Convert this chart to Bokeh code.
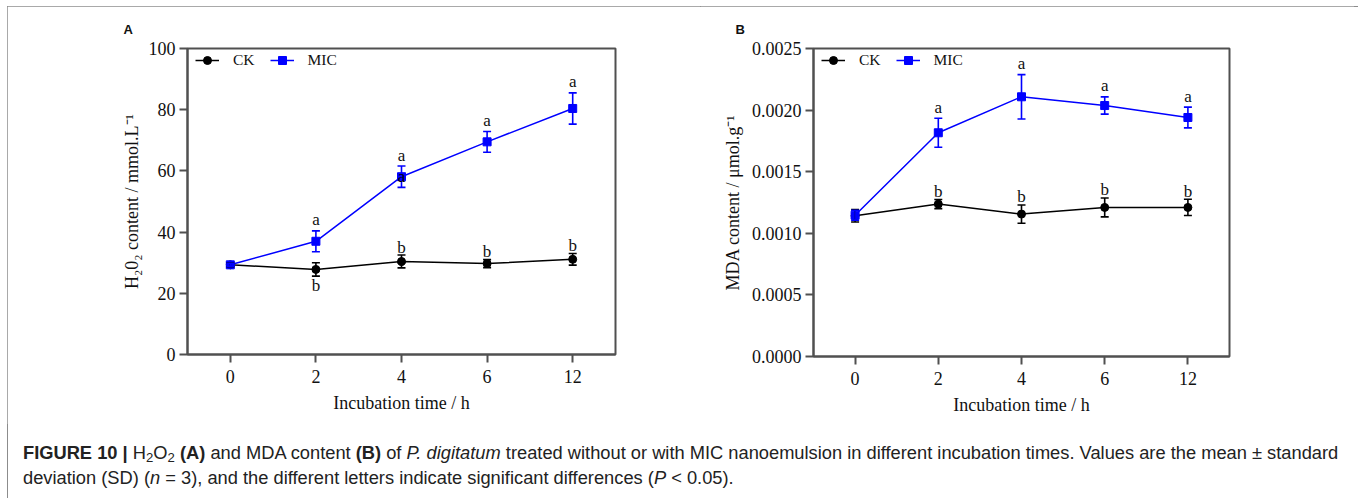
from bokeh.plotting import figure
from bokeh.models import (ColumnDataSource, Whisker, TeeHead, FactorRange, Range1d,
                          Legend, LegendItem, Div, PrintfTickFormatter, Title)
from bokeh.layouts import row, column
from bokeh.embed import file_html
from bokeh.resources import INLINE
from bokeh.core.properties import value

# ---------------- data ----------------
times = ["0", "2", "4", "6", "12"]

# Panel A: H2O2 content (mmol/L)
h2o2_ck = [29.3, 27.8, 30.4, 29.7, 31.1]
h2o2_ck_sd = [0.6, 2.2, 2.1, 1.3, 1.9]
h2o2_mic = [29.3, 37.0, 58.1, 69.5, 80.4]
h2o2_mic_sd = [0.5, 3.4, 3.5, 3.4, 5.1]
h2o2_ck_letters = ["", "b", "b", "b", "b"]
h2o2_ck_letter_side = ["", "below", "above", "above", "above"]
h2o2_mic_letters = ["", "a", "a", "a", "a"]
h2o2_mic_stray = ["", "", "a", "", ""]   # stray letter printed on the 4 h marker

# Panel B: MDA content (umol/g)
mda_ck = [0.001142, 0.001237, 0.001156, 0.001210, 0.001210]
mda_ck_sd = [0.000050, 0.000037, 0.000074, 0.000077, 0.000066]
mda_mic = [0.001147, 0.001816, 0.002108, 0.002037, 0.001940]
mda_mic_sd = [0.000040, 0.000118, 0.000180, 0.000070, 0.000084]
mda_ck_letters = ["", "b", "b", "b", "b"]
mda_ck_letter_side = ["", "above", "above", "above", "above"]
mda_mic_letters = ["", "a", "a", "a", "a"]
mda_mic_stray = ["", "", "", "", ""]

h2o2_yticks = [0, 20, 40, 60, 80, 100]
mda_yticks = [0.0, 0.0005, 0.0010, 0.0015, 0.0020, 0.0025]

SERIF = "Liberation Serif"
SANS = "Liberation Sans"
BLUE = "#0000ff"
BLACK = "#000000"
AXIS = "#505050"
LETTER_OFFSET = {"a": -11, "b": -8}


def make_panel(ck, ck_sd, ck_let, ck_side, mic, mic_sd, mic_let, stray,
               yticks, ylabel, fmt, frame_w, frame_h, mb_left, mb_right, mb_bottom,
               letter, letter_offset, ylab_standoff):
    p = figure(x_range=FactorRange(factors=times),
               y_range=Range1d(yticks[0], yticks[-1]),
               frame_width=frame_w, frame_height=frame_h,
               min_border_left=mb_left, min_border_right=mb_right,
               min_border_top=42, min_border_bottom=mb_bottom,
               output_backend="svg", toolbar_location=None)
    p.background_fill_color = "white"
    p.border_fill_color = "white"
    p.xgrid.visible = False
    p.ygrid.visible = False
    p.outline_line_color = AXIS
    p.outline_line_width = 2
    p.outline_line_alpha = 1

    for ax in (p.xaxis[0], p.yaxis[0]):
        ax.axis_line_color = AXIS
        ax.axis_line_width = 2
        ax.major_tick_line_color = AXIS
        ax.major_tick_line_width = 2
        ax.major_tick_in = 0
        ax.major_tick_out = 8
        ax.minor_tick_line_color = None
        ax.major_label_text_font = SERIF
        ax.major_label_text_font_size = "18px"
        ax.major_label_text_color = "#111111"
        ax.axis_label_text_font = SERIF
        ax.axis_label_text_font_size = "18px"
        ax.axis_label_text_font_style = "normal"
        ax.axis_label_text_color = "#111111"
    p.xaxis.axis_label = "Incubation time / h"
    p.xaxis.major_label_standoff = 7
    p.xaxis.axis_label_standoff = 7
    p.yaxis.axis_label = ylabel
    p.yaxis.ticker = yticks
    p.yaxis.major_label_standoff = 4
    p.yaxis.axis_label_standoff = ylab_standoff
    if fmt is not None:
        p.yaxis.formatter = fmt

    def series(vals, sd, color, marker, letters, sides, stray_letters):
        src = ColumnDataSource(dict(
            x=times, y=vals,
            upper=[v + s for v, s in zip(vals, sd)],
            lower=[v - s for v, s in zip(vals, sd)]))
        w = Whisker(base="x", upper="upper", lower="lower", source=src,
                    line_color=color, line_width=1.6,
                    upper_head=TeeHead(size=8, line_color=color, line_width=1.6),
                    lower_head=TeeHead(size=8, line_color=color, line_width=1.6))
        w.level = "glyph"
        p.add_layout(w)
        ln = p.line("x", "y", source=src, line_color=color, line_width=1.5)
        mk = p.scatter("x", "y", source=src, marker=marker, size=8,
                       fill_color=color, line_color=color)
        # significance letters
        ax_, ay_, at_ = [], [], []
        bx_, by_, bt_ = [], [], []
        for t, v, s, l, sd_ in zip(times, vals, sd, letters, sides):
            if not l:
                continue
            if sd_ == "below":
                bx_.append(t); by_.append(v - s); bt_.append(l)
            else:
                ax_.append(t); ay_.append(v + s); at_.append(l)
        if ax_:
            p.text(x=ax_, y=ay_, text=at_, text_align="center",
                   text_baseline="alphabetic",
                   y_offset=LETTER_OFFSET[at_[0]],
                   text_font=value(SERIF), text_font_size="17px", text_color="#111111")
        if bx_:
            p.text(x=bx_, y=by_, text=bt_, text_align="center", text_baseline="top",
                   y_offset=0, text_font=value(SERIF), text_font_size="17px",
                   text_color="#111111")
        sx = [t for t, l in zip(times, stray_letters) if l]
        sy = [v for v, l in zip(vals, stray_letters) if l]
        st = [l for l in stray_letters if l]
        if sx:
            r = p.text(x=sx, y=sy, text=st, text_align="center", text_baseline="middle",
                       text_font=value(SERIF), text_font_size="17px", text_color="#000000")
            r.level = "overlay"
        return ln, mk

    ck_r = series(ck, ck_sd, BLACK, "circle", ck_let, ck_side, [""] * len(times))
    mic_r = series(mic, mic_sd, BLUE, "square", mic_let, ["above"] * len(times), stray)

    legend = Legend(items=[LegendItem(label="CK", renderers=list(ck_r)),
                           LegendItem(label="MIC", renderers=list(mic_r))],
                    orientation="horizontal",
                    location=(8, frame_h - 22),
                    padding=0, margin=0, spacing=15,
                    glyph_width=24, glyph_height=20, label_height=20,
                    label_standoff=14,
                    label_text_font=SERIF, label_text_font_size="15.5px",
                    label_text_color="#111111",
                    border_line_color=None, background_fill_alpha=0)
    p.add_layout(legend, "center")

    t = Title(text=letter, align="left", offset=letter_offset, standoff=24,
              text_font=SANS, text_font_size="13px", text_font_style="bold",
              text_color="#111111")
    p.add_layout(t, "above")
    return p


pA = make_panel(h2o2_ck, h2o2_ck_sd, h2o2_ck_letters, h2o2_ck_letter_side,
                h2o2_mic, h2o2_mic_sd, h2o2_mic_letters, h2o2_mic_stray,
                h2o2_yticks, "H\u20820\u2082 content / mmol.L\u207b\u00b9", None,
                428, 306, 180, 85, 70, "A", -64, 4)
pB = make_panel(mda_ck, mda_ck_sd, mda_ck_letters, mda_ck_letter_side,
                mda_mic, mda_mic_sd, mda_mic_letters, mda_mic_stray,
                mda_yticks, "MDA content / \u03bcmol.g\u207b\u00b9",
                PrintfTickFormatter(format="%.4f"),
                416, 308, 113, 125, 68, "B", -78, 6)

sub = '<span style="font-size:0.72em;vertical-align:-0.22em;line-height:0">2</span>'
caption_html = (
    '<div style="margin-left:11px;margin-top:11px;font-family:\'Liberation Sans\',Arial,sans-serif;'
    'font-size:18.3px;line-height:25px;color:#222222;white-space:nowrap;">'
    '<b>FIGURE 10 |</b> H' + sub + 'O' + sub + ' <b>(A)</b> and MDA content <b>(B)</b> of '
    '<i>P. digitatum</i> treated without or with MIC nanoemulsion in different incubation times. '
    'Values are the mean \u00b1 standard<br>'
    'deviation (SD) (<i>n</i> = 3), and the different letters indicate significant differences '
    '(<i>P</i> &lt; 0.05).</div>')
cap = Div(text=caption_html, width=1347, height=70)

layout = column(row(pA, pB), cap,
                styles={"transform": "translate(7px, 6px)",
                        "outline": "1.5px solid #8c8c8c",
                        "outline-offset": "-1.5px"})

open("out.html", "w").write(file_html(layout, INLINE))
